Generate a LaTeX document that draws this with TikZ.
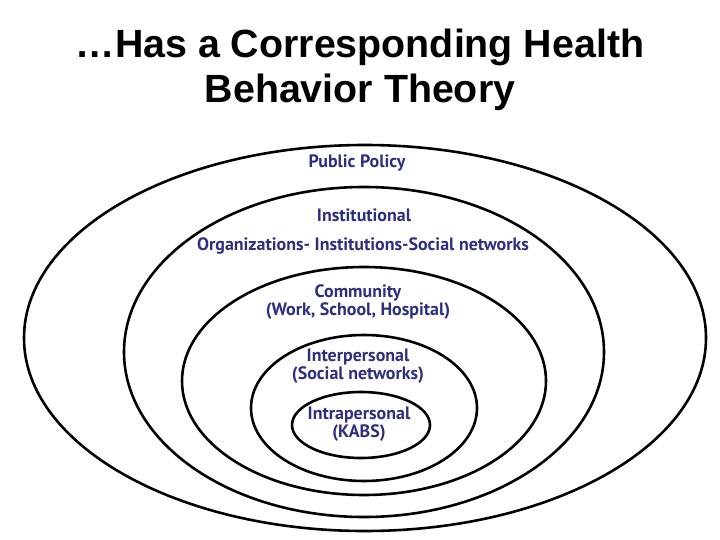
\documentclass[tikz,border=0pt]{standalone}
\usepackage{fontspec}
\setmainfont{Liberation Sans}
\newfontfamily\lblfont{PT Sans}
\usepackage{xcolor}
\usepackage{tikz}
\usetikzlibrary{positioning}
\definecolor{navy}{HTML}{2E2E80}

\begin{document}
\begin{tikzpicture}[x=1bp,y=-1bp,
  ring/.style={line width=2.6pt},
  lbl/.style={text=navy,font=\lblfont\bfseries\fontsize{18}{18}\selectfont,
    align=center,anchor=base,inner sep=0pt}]
\useasboundingbox (0,0) rectangle (720,540);

\node[font=\bfseries\fontsize{39.5}{46}\selectfont,align=center,anchor=base,inner sep=0pt]
  (title) at (360,103) {…Has a Corresponding Health\\Behavior Theory};

% Levels, outer to inner
\draw[ring] (365,338) ellipse [x radius=341,y radius=193];
\draw[ring] (364,352) ellipse [x radius=240,y radius=165];
\draw[ring] (364,381) ellipse [x radius=182,y radius=114];
\draw[ring] (364,408) ellipse [x radius=113,y radius=73];
\draw[ring] (361,425) ellipse [x radius=69,y radius=33];

% Level names (base = last line)
\node[lbl] (policy) at (357,168) {Public Policy};
\node[lbl] (inst)   at (364,222) {Institutional};
\node[lbl] (orgs)   at (363,251) {Organizations- Institutions-Social networks};
\node[lbl] (comm)   at (358,315) {Community\\(Work, School, Hospital)};
\node[lbl] (inter)  at (358,379) {Interpersonal\\(Social networks)};
\node[lbl] (intra)  at (359,437) {Intrapersonal\\(KABS)};
\end{tikzpicture}
\end{document}
